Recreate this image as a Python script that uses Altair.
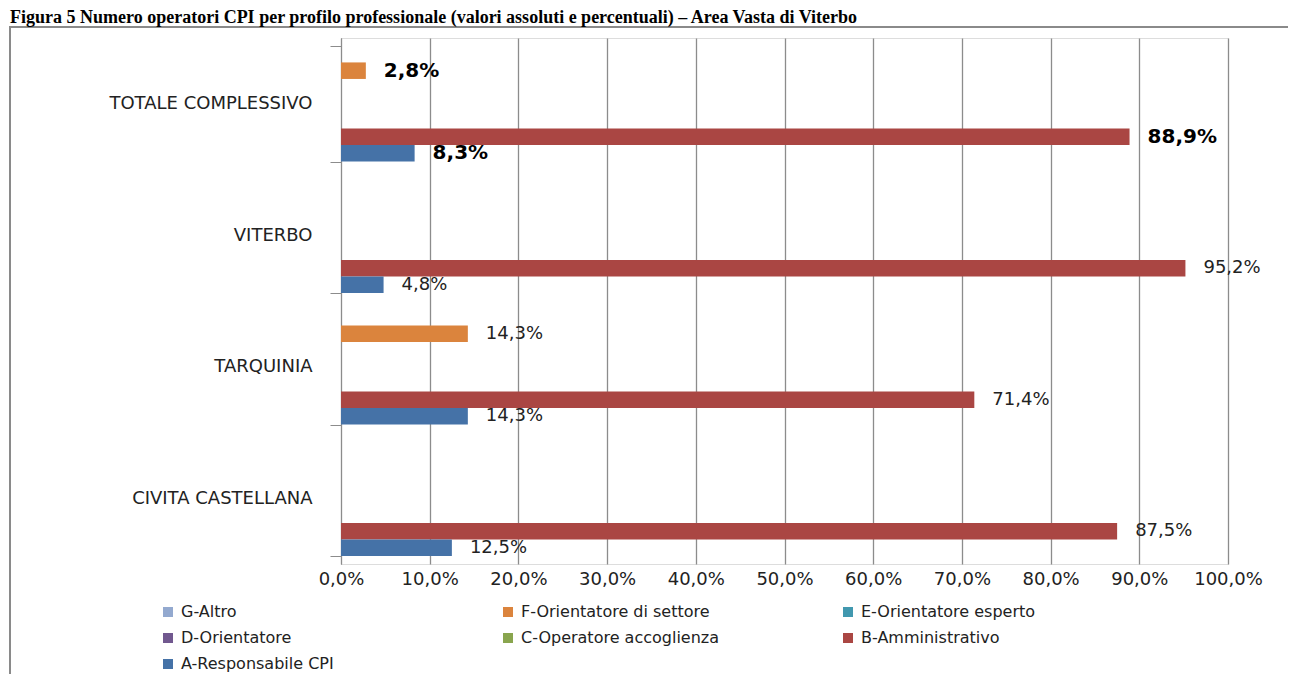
import altair as alt
import pandas as pd

categories = ["TOTALE COMPLESSIVO", "VITERBO", "TARQUINIA", "CIVITA CASTELLANA"]
series = [
    "G-Altro",
    "F-Orientatore di settore",
    "E-Orientatore esperto",
    "D-Orientatore",
    "C-Operatore accoglienza",
    "B-Amministrativo",
    "A-Responsabile CPI",
]
colors = ["#93A9CF", "#DB843D", "#4198AF", "#71588F", "#89A54E", "#AA4643", "#4572A7"]

# values (%) per series, in the order of `categories`
val_G = [0.0, 0.0, 0.0, 0.0]
val_F = [2.8, 0.0, 14.3, 0.0]
val_E = [0.0, 0.0, 0.0, 0.0]
val_D = [0.0, 0.0, 0.0, 0.0]
val_C = [0.0, 0.0, 0.0, 0.0]
val_B = [88.9, 95.2, 71.4, 87.5]
val_A = [8.3, 4.8, 14.3, 12.5]

title_text = ("Figura 5 Numero operatori CPI per profilo professionale "
              "(valori assoluti e percentuali) \u2013 Area Vasta di Viterbo")

values_by_series = [val_G, val_F, val_E, val_D, val_C, val_B, val_A]
rows = []
for s, vals in zip(series, values_by_series):
    for c, v in zip(categories, vals):
        rows.append({"cat": c, "serie": s, "val": v})
df = pd.DataFrame(rows)

FONT = "DejaVu Sans"
GRID = "#8c8c8c"
TXT = "#222222"

y_enc = alt.Y(
    "cat:N",
    sort=categories,
    scale=alt.Scale(domain=categories, paddingInner=0.12, paddingOuter=0.06),
    axis=alt.Axis(
        title=None,
        labelFont=FONT,
        labelFontSize=18,
        labelColor=TXT,
        labelPadding=18,
        tickSize=11,
        tickColor=GRID,
        tickBand="extent",
        domainColor=GRID,
        labelLimit=500,
        grid=False,
    ),
)
yoff_enc = alt.YOffset(
    "serie:N",
    scale=alt.Scale(domain=series, paddingInner=0, paddingOuter=0),
)
x_enc = alt.X(
    "val:Q",
    scale=alt.Scale(domain=[0, 100], nice=False),
    axis=alt.Axis(
        title=None,
        values=list(range(0, 101, 10)),
        labelExpr="replace(format(datum.value, '.1f'), '.', ',') + '%'",
        labelFont=FONT,
        labelFontSize=18,
        labelColor=TXT,
        labelPadding=6,
        ticks=False,
        domain=False,
        grid=True,
        gridColor=GRID,
        gridWidth=1.3,
        gridOpacity=1,
        labelFlush=False,
    ),
)

base = alt.Chart(df)

bars = base.mark_bar().encode(
    x=x_enc,
    y=y_enc,
    yOffset=yoff_enc,
    color=alt.Color(
        "serie:N",
        scale=alt.Scale(domain=series, range=colors),
        legend=alt.Legend(
            title=None,
            orient="none",
            direction="horizontal",
            legendX=-181,
            legendY=566,
            columns=3,
            gridAlign="all",
            columnPadding=120,
            rowPadding=10,
            symbolType="square",
            symbolSize=100,
            symbolStrokeWidth=0,
            labelFont=FONT,
            labelFontSize=16,
            labelColor=TXT,
            labelOffset=5,
            labelLimit=500,
        ),
    ),
)

label_expr = "replace(format(datum.val, '.1f'), '.', ',') + '%'"

labels_normal = (
    base.transform_filter("datum.val > 0 && datum.cat != 'TOTALE COMPLESSIVO'")
    .transform_calculate(lbl=label_expr)
    .mark_text(align="left", baseline="middle", dx=18, font=FONT, fontSize=18, color=TXT)
    .encode(x="val:Q", y=alt.Y("cat:N", sort=categories), yOffset="serie:N", text="lbl:N")
)

labels_total = (
    base.transform_filter("datum.val > 0 && datum.cat == 'TOTALE COMPLESSIVO'")
    .transform_calculate(lbl=label_expr)
    .mark_text(align="left", baseline="middle", dx=18, font=FONT, fontSize=20,
               fontWeight="bold", color="#000000")
    .encode(x="val:Q", y=alt.Y("cat:N", sort=categories), yOffset="serie:N", text="lbl:N")
)

frame = (
    alt.Chart(pd.DataFrame({"k": [0]}))
    .mark_rect(fillOpacity=0, stroke="#8a8a8a", strokeWidth=2)
    .encode(x=alt.value(-331), x2=alt.value(960), y=alt.value(-11), y2=alt.value(700))
)

chart = (
    alt.layer(frame, bars, labels_normal, labels_total)
    .properties(
        width=887,
        height=526,
        autosize=alt.AutoSizeParams(type="none"),
        padding={"left": 333, "top": 30, "right": 60, "bottom": 110},
        title=alt.TitleParams(
            text=title_text,
            anchor="start",
            frame="group",
            dx=-331,
            offset=-1,
            font="Liberation Serif",
            fontSize=18,
            fontWeight="bold",
            color="#000000",
        ),
    )
    .configure_view(stroke=GRID, strokeWidth=1.3)
    .configure(font=FONT)
)

chart.save("out.html", embed_options={"renderer": "svg", "actions": False})
